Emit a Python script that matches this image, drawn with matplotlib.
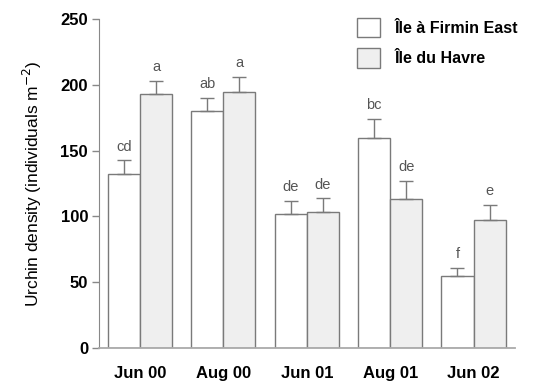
import matplotlib
matplotlib.use("Agg")
import matplotlib.pyplot as plt
import numpy as np
from matplotlib.patches import Patch

categories = ["Jun 00", "Aug 00", "Jun 01", "Aug 01", "Jun 02"]
firmin = [132, 180, 101.6, 159.6, 54.5]
firmin_se = [10.6, 10.1, 10.3, 14.4, 6.5]
havre = [193.2, 194.5, 103.6, 113.5, 97]
havre_se = [9.9, 11.5, 10.1, 13.6, 11.9]
firmin_letters = ["cd", "ab", "de", "bc", "f"]
havre_letters = ["a", "a", "de", "de", "e"]
series_names = ["Île à Firmin East", "Île du Havre"]
yticks = [0, 50, 100, 150, 200, 250]

plt.rcParams['font.family'] = ['Liberation Sans', 'DejaVu Sans']

fig = plt.figure(figsize=(5.51, 3.86), dpi=100)
ax = fig.add_axes([0.18, 0.098, 0.755, 0.853])

x = np.arange(len(categories))
w = 0.385
edge = "#7a7a7a"
ax.bar(x - w/2, firmin, w, color="white", edgecolor=edge, linewidth=1.0, zorder=2)
ax.bar(x + w/2, havre, w, color="#efefef", edgecolor=edge, linewidth=1.0, zorder=2)
ax.errorbar(x - w/2, firmin, yerr=[np.zeros(5), firmin_se], fmt="none",
            ecolor=edge, elinewidth=1.0, capsize=5, capthick=1.0, zorder=3)
ax.errorbar(x + w/2, havre, yerr=[np.zeros(5), havre_se], fmt="none",
            ecolor=edge, elinewidth=1.0, capsize=5, capthick=1.0, zorder=3)

for xi, v, e, t in zip(x - w/2, firmin, firmin_se, firmin_letters):
    ax.text(xi, v + e + 5, t, ha="center", va="bottom", fontsize=10.5, color="#555555")
for xi, v, e, t in zip(x + w/2, havre, havre_se, havre_letters):
    ax.text(xi, v + e + 5, t, ha="center", va="bottom", fontsize=10.5, color="#555555")

ax.set_xlim(-0.49, 4.5)
ax.set_ylim(0, 250)
ax.set_yticks(yticks)
ax.set_yticklabels([str(t) for t in yticks], fontsize=12, fontweight="bold")
ax.set_xticks(x)
ax.set_xticklabels(categories, fontsize=12, fontweight="bold")
ax.tick_params(axis="x", length=0, pad=13)
ax.tick_params(axis="y", length=5, width=1, color="#888888", pad=3)
for s in ["top", "right"]:
    ax.spines[s].set_visible(False)
ax.spines["left"].set_color("#888888")
ax.spines["bottom"].set_color("#aaaaaa")
ax.spines["bottom"].set_linewidth(1.3)
ax.set_ylabel("Urchin density (individuals m$^{-2}$)", fontsize=12.5, labelpad=12)

handles = [Patch(facecolor="white", edgecolor=edge), Patch(facecolor="#efefef", edgecolor=edge)]
leg = fig.legend(handles, series_names, loc="upper left", bbox_to_anchor=(0.633, 0.975),
                 frameon=False, prop={"size": 11.5, "weight": "bold"}, borderpad=0,
                 handlelength=1.45, handleheight=1.5, handletextpad=0.95, labelspacing=0.7)

fig.savefig("out.png", dpi=100)
